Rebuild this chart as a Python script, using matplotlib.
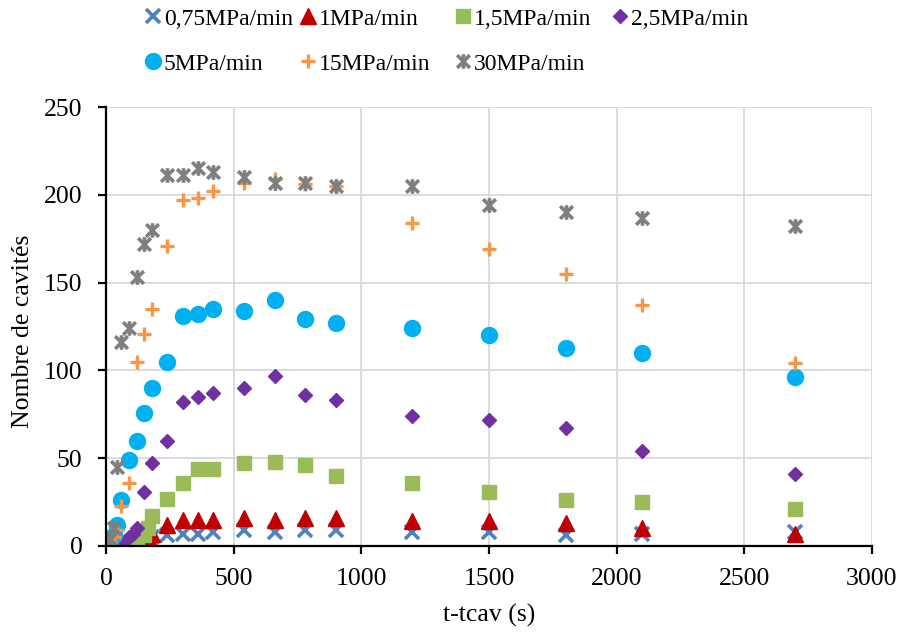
import matplotlib
matplotlib.use("Agg")
import matplotlib.pyplot as plt
from matplotlib.path import Path

plt.rcParams['font.family'] = ['Liberation Serif', 'DejaVu Serif']

# ---- data ----
labels = ["0,75MPa/min", "1MPa/min", "1,5MPa/min", "2,5MPa/min",
          "5MPa/min", "15MPa/min", "30MPa/min"]

t_075 = [0, 30, 60, 90, 120, 150, 180, 240, 300, 360, 420, 540, 660, 780, 900, 1200, 1500, 1800, 2100, 2700]
y_075 = [0, 0, 0, 1, 2, 3, 5, 6, 7, 7, 8, 9, 8, 9, 9, 8, 8, 6, 7, 8]

t_1 = [0, 30, 60, 90, 105, 120, 135, 150, 165, 180, 240, 300, 360, 420, 540, 660, 780, 900, 1200, 1500, 1800, 2100, 2700]
y_1 = [0, 0, 0, 0, 1, 2, 3, 4, 5, 7, 12, 15, 15, 15, 16, 15, 16, 16, 14, 14, 13, 10, 7]

t_15 = [0, 60, 90, 120, 150, 165, 180, 240, 300, 360, 420, 540, 660, 780, 900, 1200, 1500, 1800, 2100, 2700]
y_15 = [0, 0, 1, 3, 6, 10, 17, 27, 36, 44, 44, 47, 48, 46, 40, 36, 31, 26, 25, 21]

t_25 = [0, 30, 60, 75, 90, 105, 120, 150, 180, 240, 300, 360, 420, 540, 660, 780, 900, 1200, 1500, 1800, 2100, 2700]
y_25 = [0, 0, 1, 3, 5, 7, 10, 31, 47, 60, 82, 85, 87, 90, 97, 86, 83, 74, 72, 67, 54, 41]

t_5 = [0, 15, 30, 45, 60, 90, 120, 150, 180, 240, 300, 360, 420, 540, 660, 780, 900, 1200, 1500, 1800, 2100, 2700]
y_5 = [0, 3, 6, 12, 26, 49, 60, 76, 90, 105, 131, 132, 135, 134, 140, 129, 127, 124, 120, 113, 110, 96]

t_15b = [0, 15, 30, 45, 60, 90, 120, 150, 180, 240, 300, 360, 420, 540, 660, 780, 900, 1200, 1500, 1800, 2100, 2700]
y_15b = [0, 2, 5, 9, 23, 36, 105, 121, 135, 171, 197, 198, 202, 207, 209, 206, 205, 184, 169, 155, 137, 104]

t_30 = [0, 15, 30, 45, 60, 90, 120, 150, 180, 240, 300, 360, 420, 540, 660, 780, 900, 1200, 1500, 1800, 2100, 2700]
y_30 = [0, 4, 10, 45, 116, 124, 153, 172, 180, 211, 211, 215, 213, 210, 207, 207, 205, 205, 194, 190, 187, 182]

x_ticks = [0, 500, 1000, 1500, 2000, 2500, 3000]
y_ticks = [0, 50, 100, 150, 200, 250]

# ---- styles ----
star = Path([(-1, -1), (1, 1), (-1, 1), (1, -1), (0, -1.15), (0, 1.15)],
            [Path.MOVETO, Path.LINETO, Path.MOVETO, Path.LINETO, Path.MOVETO, Path.LINETO])

series = [
    (t_075, y_075, dict(marker='x', ms=10, mew=2.6, color='#4F81BD')),
    (t_1, y_1, dict(marker='^', ms=11.5, color='#C00000', mec='#C00000')),
    (t_15, y_15, dict(marker='s', ms=10.5, color='#9BBB59', mec='#9BBB59')),
    (t_25, y_25, dict(marker='D', ms=7.6, color='#7030A0', mec='#7030A0')),
    (t_5, y_5, dict(marker='o', ms=11.5, color='#00B0F0', mec='#00B0F0')),
    (t_15b, y_15b, dict(marker='+', ms=10, mew=2.4, color='#F79646')),
    (t_30, y_30, dict(marker=star, ms=10.5, mew=2.6, color='#7F7F7F', mfc='none')),
]

fig = plt.figure(figsize=(9, 6.35), dpi=100)
ax = fig.add_axes([106/900, 1-546/635, (872-106)/900, (546-107)/635])

handles = []
for (t, y, st), lab in zip(series, labels):
    h, = ax.plot(t, y, linestyle='none', label=lab, **st)
    handles.append(h)

ax.set_xlim(0, 3000)
ax.set_ylim(0, 250)
ax.set_xticks(x_ticks)
ax.set_yticks(y_ticks)
ax.grid(True, color='#D9D9D9', linewidth=1.3)
ax.set_axisbelow(True)
for s in ['top', 'right']:
    ax.spines[s].set_visible(False)
for s in ['left', 'bottom']:
    ax.spines[s].set_linewidth(1.6)
    ax.spines[s].set_color('black')
ax.tick_params(axis='both', direction='out', length=6, width=1.6, labelsize=18.5)
ax.tick_params(axis='x', pad=10)
ax.tick_params(axis='y', pad=11)

ax.set_xlabel("t-tcav (s)", fontsize=18.5)
ax.set_ylabel("Nombre de cavités", fontsize=18.5)
ax.xaxis.set_label_coords(0.5, -0.132)
ax.yaxis.set_label_coords(-0.094, 0.49)

# legend: one column group per Excel legend column (row-major layout)
col_x = [152.5, 308, 462.5, 620]
columns = [[0, 4], [1, 5], [2, 6], [3]]
hl = 0.8
fs = 17
for cx, idx in zip(col_x, columns):
    leg = fig.legend([handles[i] for i in idx], [labels[i] for i in idx],
                     loc='upper left',
                     bbox_to_anchor=((cx - hl * fs * 100 / 72 / 2) / 900, 1 - 8 / 635),
                     ncol=1, frameon=False, fontsize=fs, handlelength=hl,
                     handletextpad=0.08, labelspacing=1.0, borderpad=0,
                     borderaxespad=0)

fig.savefig("out.png", dpi=100)
